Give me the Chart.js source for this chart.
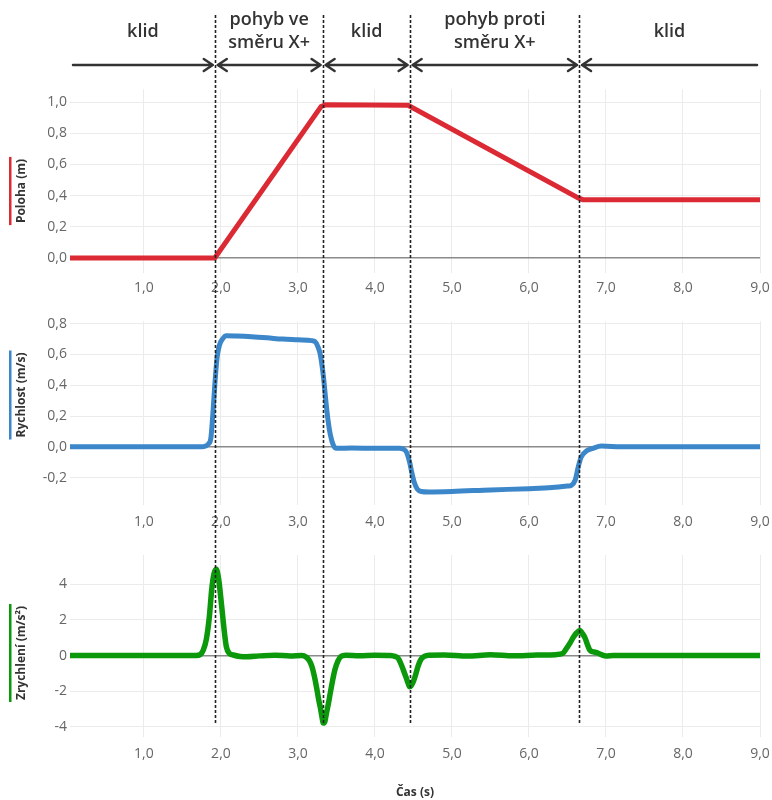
<!DOCTYPE html>
<html>
<head>
<meta charset="utf-8">
<script src="https://cdn.jsdelivr.net/npm/chart.js@4.4.1/dist/chart.umd.min.js"></script>
<style>
body { margin: 0; background: #fff; }
#wrap { position: relative; width: 772px; height: 800px; }
#wrap canvas { position: absolute; left: 0; }
</style>
</head>
<body>
<div id="wrap">
  <canvas id="c1" width="772" height="232" style="top:78px"></canvas>
  <canvas id="c2" width="772" height="230" style="top:310px"></canvas>
  <canvas id="c3" width="772" height="260" style="top:540px"></canvas>
  <canvas id="overlay" width="772" height="800" style="top:0"></canvas>
</div>
<script>
// data
var tPos = [0.04, 1.92, 3.30, 3.36, 4.43, 6.64, 6.70, 9.0];
var vPos = [0, 0, 0.972, 0.983, 0.98, 0.385, 0.374, 0.374];

var tVel = [0.04, 1.0, 1.75, 1.80, 1.84, 1.87, 1.90, 1.92, 1.95, 1.98,
    2.02, 2.07, 2.2, 2.4, 2.6, 2.8, 3.0, 3.18, 3.22, 3.26,
    3.29, 3.33, 3.36, 3.39, 3.42, 3.46, 3.50, 3.7, 4.0, 4.32,
    4.37, 4.41, 4.45, 4.48, 4.51, 4.55, 4.60, 4.7, 5.0, 5.5,
    6.0, 6.3, 6.50, 6.55, 6.60, 6.64, 6.68, 6.75, 6.83, 6.94,
    7.2, 8.0, 9.0];
var vVel = [0, 0, 0, 0.005, 0.02, 0.06, 0.25, 0.40, 0.58, 0.66,
    0.70, 0.722, 0.72, 0.715, 0.708, 0.70, 0.695, 0.69, 0.685, 0.65,
    0.60, 0.46, 0.31, 0.175, 0.08, 0.01, -0.01, -0.008, -0.01, -0.01,
    -0.015, -0.035, -0.10, -0.17, -0.23, -0.275, -0.29, -0.293, -0.29, -0.28,
    -0.272, -0.265, -0.255, -0.25, -0.216, -0.13, -0.065, -0.026, -0.01, 0.005,
    0, 0, 0];

var tAcc = [0.04, 1.0, 1.68, 1.73, 1.77, 1.81, 1.85, 1.88, 1.91, 1.94,
    1.97, 2.01, 2.04, 2.07, 2.11, 2.16, 2.25, 2.33, 2.5, 2.7,
    2.9, 3.05, 3.11, 3.15, 3.18, 3.21, 3.24, 3.27, 3.29, 3.31,
    3.33, 3.35, 3.37, 3.40, 3.42, 3.45, 3.48, 3.52, 3.56, 3.62,
    3.8, 4.0, 4.2, 4.26, 4.30, 4.35, 4.38, 4.41, 4.43, 4.45,
    4.47, 4.50, 4.53, 4.56, 4.60, 4.64, 4.70, 4.9, 5.2, 5.5,
    5.8, 6.1, 6.35, 6.44, 6.48, 6.53, 6.58, 6.62, 6.66, 6.70,
    6.73, 6.76, 6.79, 6.84, 6.88, 6.94, 7.0, 7.1, 7.4, 8.0,
    9.0];
var vAcc = [0, 0, 0, 0.05, 0.3, 0.9, 2.2, 3.7, 4.6, 4.85,
    4.3, 2.75, 1.5, 0.5, 0.12, 0.03, -0.05, -0.07, -0.02, 0.02,
    -0.03, 0, -0.1, -0.3, -0.6, -1.1, -1.75, -2.5, -2.9, -3.4,
    -3.8, -3.7, -3.25, -2.6, -2.1, -1.4, -0.8, -0.3, -0.05, 0.02,
    -0.02, 0.02, 0, -0.05, -0.15, -0.6, -0.95, -1.3, -1.55, -1.75,
    -1.7, -1.45, -1.05, -0.6, -0.2, -0.05, 0.02, 0.03, -0.03, 0.04,
    -0.02, 0.03, 0.05, 0.12, 0.35, 0.68, 1.05, 1.28, 1.4, 1.2,
    0.97, 0.6, 0.3, 0.2, 0.16, 0.05, -0.03, 0, 0, 0,
    0];

var xTicks = [1, 2, 3, 4, 5, 6, 7, 8, 9];
var posTicks = [0, 0.2, 0.4, 0.6, 0.8, 1.0];
var velTicks = [-0.2, 0, 0.2, 0.4, 0.6, 0.8];
var accTicks = [-4, -2, 0, 2, 4];

// phase boundaries and labels at the top
var phaseBounds = [1.92, 3.32, 4.45, 6.65];
var phaseLabels = [['klid'], ['pohyb ve', 'směru X+'], ['klid'], ['pohyb proti', 'směru X+'], ['klid']];

var titles = ['Poloha (m)', 'Rychlost (m/s)', 'Zrychlení (m/s²)'];
var colors = ['#dc2a34', '#3b87ca', '#0b990b'];

var fontFam = '"Open Sans", "Noto Sans", sans-serif';

function comma1(v) { return v.toFixed(1).replace('.', ','); }

function makeChart(id, t, v, color, lw, tension, yMin, yMax, yTicks, fmt, padTop, xHeight, xPad) {
    return new Chart(document.getElementById(id), {
        type: 'line',
        data: {
            datasets: [{
                data: t.map(function (x, i) { return {x: x, y: v[i]}; }),
                borderColor: color,
                borderWidth: lw,
                pointRadius: 0,
                tension: tension,
                cubicInterpolationMode: tension ? 'monotone' : 'default',
                fill: false
            }]
        },
        options: {
            responsive: false,
            animation: false,
            layout: {padding: {top: padTop, right: 12, left: 0, bottom: 0}},
            plugins: {legend: {display: false}, tooltip: {enabled: false}},
            scales: {
                x: {
                    type: 'linear',
                    min: 0.04,
                    max: 9,
                    afterBuildTicks: function (s) { s.ticks = xTicks.map(function (x) { return {value: x}; }); },
                    afterFit: function (s) {
                        s.height = xHeight;
                        s.paddingLeft = 0;
                        s.paddingRight = 0;
                    },
                    grid: {color: '#ebebeb', drawTicks: false},
                    border: {display: false},
                    ticks: {
                        padding: xPad,
                        maxRotation: 0,
                        color: '#666',
                        font: {family: fontFam, size: 14},
                        callback: function (val) { return comma1(val); }
                    }
                },
                y: {
                    min: yMin,
                    max: yMax,
                    afterBuildTicks: function (s) { s.ticks = yTicks.map(function (x) { return {value: x}; }); },
                    afterFit: function (s) { s.width = 70; },
                    grid: {
                        drawTicks: false,
                        color: function (c) { return c.tick && Math.abs(c.tick.value) < 1e-9 ? '#8a8a8a' : '#ebebeb'; },
                        lineWidth: function (c) { return c.tick && Math.abs(c.tick.value) < 1e-9 ? 1.5 : 1; }
                    },
                    border: {display: false},
                    ticks: {
                        padding: 3,
                        color: '#666',
                        font: {family: fontFam, size: 14},
                        callback: fmt
                    }
                }
            }
        }
    });
}

var c1 = makeChart('c1', tPos, vPos, colors[0], 5, 0, -0.097, 1.082, posTicks, comma1, 9, 37, 7);
var c2 = makeChart('c2', tVel, vVel, colors[1], 5, 0.4, -0.378, 0.815, velTicks, comma1, 11, 35, 9);
var c3 = makeChart('c3', tAcc, vAcc, colors[2], 5.5, 0.4, -4.58, 5.65, accTicks, function (v) { return String(v); }, 15, 63, 9);

// overlay: phase arrows, dashed lines, axis titles
var ov = document.getElementById('overlay').getContext('2d');
var xs = c1.scales.x;
var px = function (t) { return xs.getPixelForValue(t); };

var bx = phaseBounds.map(px);
var segs = [[73, bx[0] - 2]];
for (var i = 0; i < bx.length - 1; i++) segs.push([bx[i] + 3, bx[i + 1] - 2]);
segs.push([bx[bx.length - 1] + 3, 757]);

ov.strokeStyle = '#333';
ov.lineWidth = 2.5;
ov.lineCap = 'round';
ov.lineJoin = 'round';
var ay = 65;
segs.forEach(function (s, i) {
    ov.beginPath();
    ov.moveTo(s[0], ay);
    ov.lineTo(s[1], ay);
    if (i < segs.length - 1) {
        ov.moveTo(s[1] - 9, ay - 6);
        ov.lineTo(s[1], ay);
        ov.lineTo(s[1] - 9, ay + 6);
    }
    if (i > 0) {
        ov.moveTo(s[0] + 9, ay - 6);
        ov.lineTo(s[0], ay);
        ov.lineTo(s[0] + 9, ay + 6);
    }
    ov.stroke();

    var cx = (s[0] + s[1]) / 2;
    var lines = phaseLabels[i];
    ov.fillStyle = '#333';
    ov.font = '600 18px ' + fontFam;
    ov.textAlign = 'center';
    ov.textBaseline = 'middle';
    if (lines.length == 1) {
        ov.fillText(lines[0], cx, 32);
    } else {
        ov.fillText(lines[0], cx, 20);
        ov.fillText(lines[1], cx, 43);
    }
});

// dashed boundaries
ov.save();
ov.setLineDash([3, 2]);
ov.lineWidth = 1.6;
ov.lineCap = 'butt';
ov.strokeStyle = '#222';
bx.forEach(function (x) {
    ov.beginPath();
    ov.moveTo(Math.round(x) + 0.5, 15);
    ov.lineTo(Math.round(x) + 0.5, 723);
    ov.stroke();
});
ov.restore();

// y axis titles with colour bars
var titleCy = [191, 395, 653];
ov.font = 'bold 12px ' + fontFam;
titles.forEach(function (txt, i) {
    var w = ov.measureText(txt).width;
    ov.save();
    ov.translate(22, titleCy[i]);
    ov.rotate(-Math.PI / 2);
    ov.fillStyle = '#333';
    ov.textAlign = 'center';
    ov.textBaseline = 'middle';
    ov.fillText(txt, 0, 0);
    ov.restore();
    ov.fillStyle = colors[i];
    ov.fillRect(9, titleCy[i] - w / 2 - 2, 2.5, w + 4);
});

ov.fillStyle = '#333';
ov.textAlign = 'center';
ov.textBaseline = 'middle';
ov.fillText('Čas (s)', (c3.chartArea.left + c3.chartArea.right) / 2, 793);
</script>
</body>
</html>
